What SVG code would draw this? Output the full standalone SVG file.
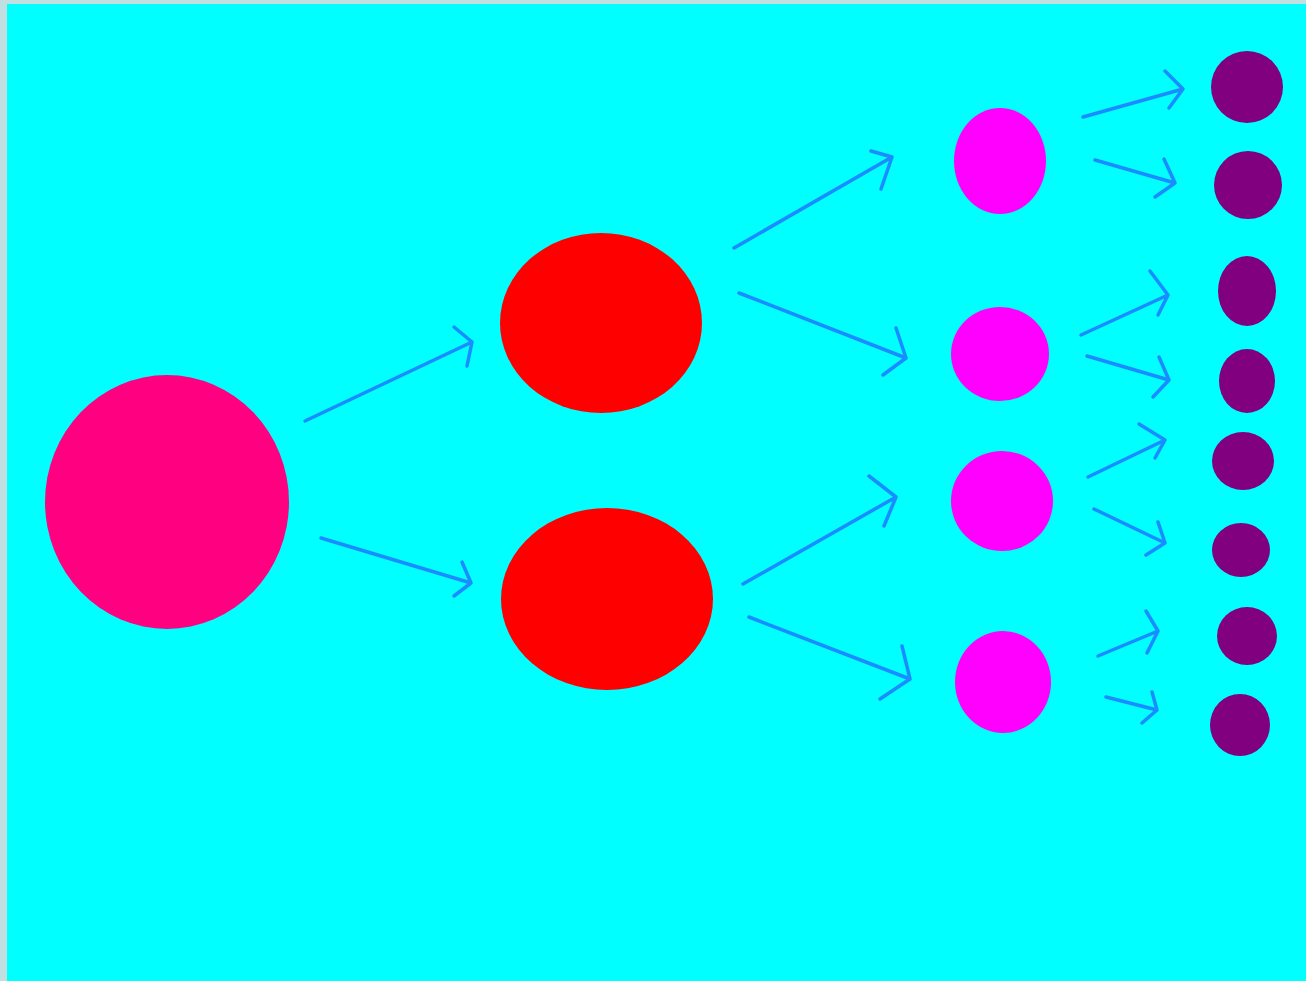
<svg xmlns="http://www.w3.org/2000/svg" width="1306" height="981" viewBox="0 0 1306 981">
<style>
.ar{fill:none;stroke:#1a8cff;stroke-width:3.5;stroke-linecap:round;stroke-linejoin:round}
.root{fill:#ff0080}
.l1{fill:#ff0000}
.l2{fill:#ff00ff}
.l3{fill:#800080}
</style>
<rect x="0" y="0" width="1306" height="981" fill="#c0dfe0"/>
<rect x="7" y="4" width="1299" height="977" fill="#00ffff"/>
<g id="connectors">
<path class="ar" d="M305,421 L472,342 M454,327 L472,342 L467,366"/>
<path class="ar" d="M321,538 L471,583 M462,562 L471,583 L454,596"/>
<path class="ar" d="M734,248 L892,157 M871,151 L892,157 L881,189"/>
<path class="ar" d="M739,293 L906,358 M896,328 L906,358 L883,375"/>
<path class="ar" d="M743,584 L896,497 M869,476 L896,497 L884,526"/>
<path class="ar" d="M749,617 L910,679 M902,646 L910,679 L880,699"/>
<path class="ar" d="M1083,117 L1183,89 M1165,71 L1183,89 L1169,108"/>
<path class="ar" d="M1095,160 L1175,183 M1164,159 L1175,183 L1155,197"/>
<path class="ar" d="M1081,335 L1168,295 M1150,271 L1168,295 L1158,315"/>
<path class="ar" d="M1087,356 L1169,380 M1159,357 L1169,380 L1153,397"/>
<path class="ar" d="M1088,477 L1165,440 M1139,424 L1165,440 L1155,458"/>
<path class="ar" d="M1094,509 L1165,543 M1158,522 L1165,543 L1146,555"/>
<path class="ar" d="M1098,656 L1158,631 M1146,611 L1158,631 L1147,653"/>
<path class="ar" d="M1106,697 L1157,710 M1152,692 L1157,710 L1142,723"/>
</g>
<g id="n0"><ellipse class="root" cx="167" cy="502" rx="122" ry="127"/></g>
<g id="n1"><ellipse class="l1" cx="601" cy="323" rx="101" ry="90"/></g>
<g id="n2"><ellipse class="l1" cx="607" cy="599" rx="106" ry="91"/></g>
<g id="n3"><ellipse class="l2" cx="1000" cy="161" rx="46" ry="53"/></g>
<g id="n4"><ellipse class="l2" cx="1000" cy="354" rx="49" ry="47"/></g>
<g id="n5"><ellipse class="l2" cx="1002" cy="501" rx="51" ry="50"/></g>
<g id="n6"><ellipse class="l2" cx="1003" cy="682" rx="48" ry="51"/></g>
<g id="n7"><ellipse class="l3" cx="1247" cy="87" rx="36" ry="36"/></g>
<g id="n8"><ellipse class="l3" cx="1248" cy="185" rx="34" ry="34"/></g>
<g id="n9"><ellipse class="l3" cx="1247" cy="291" rx="29" ry="35"/></g>
<g id="n10"><ellipse class="l3" cx="1247" cy="381" rx="28" ry="32"/></g>
<g id="n11"><ellipse class="l3" cx="1243" cy="461" rx="31" ry="29"/></g>
<g id="n12"><ellipse class="l3" cx="1241" cy="550" rx="29" ry="27"/></g>
<g id="n13"><ellipse class="l3" cx="1247" cy="636" rx="30" ry="29"/></g>
<g id="n14"><ellipse class="l3" cx="1240" cy="725" rx="30" ry="31"/></g>
</svg>
